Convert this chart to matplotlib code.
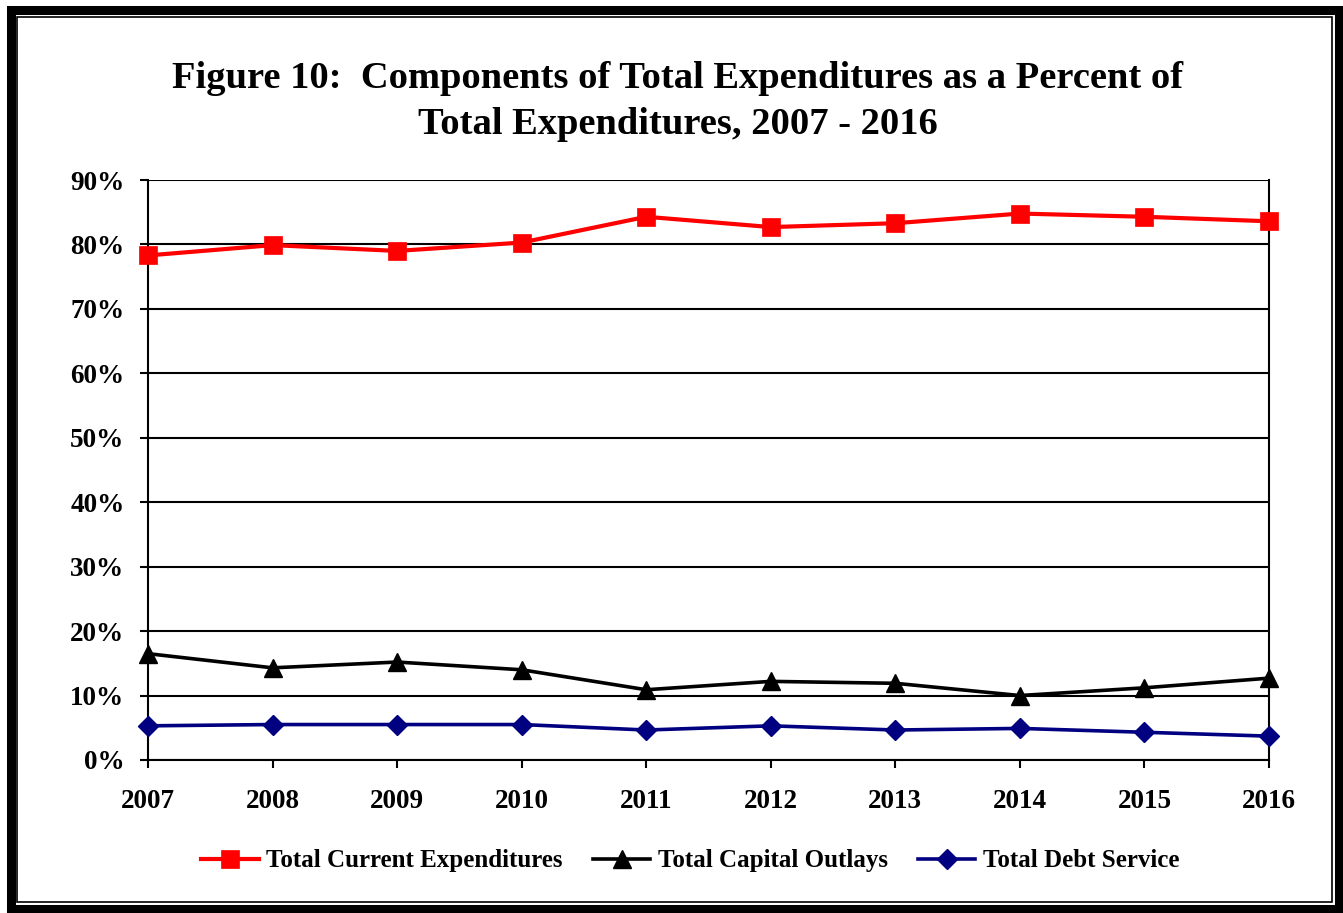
import matplotlib.pyplot as plt
from matplotlib.patches import Rectangle
from matplotlib.ticker import FuncFormatter

plt.rcParams['font.family'] = ['Liberation Serif', 'DejaVu Serif']
plt.rcParams['font.weight'] = 'bold'

# data (percent of total expenditures)
years = [2007, 2008, 2009, 2010, 2011, 2012, 2013, 2014, 2015, 2016]
current = [78.3, 79.9, 79.0, 80.3, 84.3, 82.7, 83.3, 84.8, 84.3, 83.6]
capital = [16.5, 14.3, 15.2, 14.0, 10.9, 12.2, 11.9, 10.0, 11.2, 12.7]
debt = [5.3, 5.5, 5.5, 5.5, 4.65, 5.3, 4.65, 4.9, 4.3, 3.7]
yticks = [0, 10, 20, 30, 40, 50, 60, 70, 80, 90]

fig = plt.figure(figsize=(13.43, 9.13), dpi=100)
ax = fig.add_axes([0.1102, 0.1676, 0.8347, 0.6352])

# frame around the whole figure
fig.patches.append(Rectangle((10.5 / 1343, 4.5 / 913), 1328.5 / 1343, 898 / 913,
                             transform=fig.transFigure, fill=False,
                             edgecolor='black', linewidth=6.5))
fig.patches.append(Rectangle((16.5 / 1343, 11 / 913), 1315.5 / 1343, 885 / 913,
                             transform=fig.transFigure, fill=False,
                             edgecolor='black', linewidth=1.2))

for y in yticks:
    ax.axhline(y, color='black', linewidth=1.5, zorder=1)

ax.plot(years, current, color='#ff0000', linewidth=3, marker='s',
        markersize=13, markeredgewidth=0.5, label='Total Current Expenditures',
        clip_on=False, zorder=3)
ax.plot(years, capital, color='black', linewidth=2.6, marker='^',
        markersize=13, label='Total Capital Outlays', clip_on=False, zorder=3)
ax.plot(years, debt, color='#000080', linewidth=2.6, marker='D',
        markersize=10.5, label='Total Debt Service', clip_on=False, zorder=3)

ax.set_xlim(2007, 2016)
ax.set_ylim(0, 90)
ax.set_xticks(years)
ax.set_yticks(yticks)
ax.yaxis.set_major_formatter(FuncFormatter(lambda v, p: '%d%%' % v))
ax.tick_params(axis='both', direction='out', length=6, width=1.5,
               labelsize=19.5, color='black')
ax.tick_params(axis='y', pad=11)
ax.tick_params(axis='x', pad=15)
for lab in ax.get_xticklabels() + ax.get_yticklabels():
    lab.set_fontweight('bold')
for s in ['left', 'right', 'bottom']:
    ax.spines[s].set_linewidth(1.5)
ax.spines['top'].set_visible(False)

fig.text(0.5048, 0.889,
         'Figure 10:  Components of Total Expenditures as a Percent of\n'
         'Total Expenditures, 2007 - 2016',
         ha='center', va='center', fontsize=27.7, fontweight='bold',
         linespacing=1.4)

fig.legend(loc='center', bbox_to_anchor=(0.514, 0.057), ncol=3,
           frameon=False, prop={'size': 18, 'weight': 'bold'},
           handlelength=2.3, handletextpad=0.3, columnspacing=1.2)

fig.savefig('out.png', dpi=100)
